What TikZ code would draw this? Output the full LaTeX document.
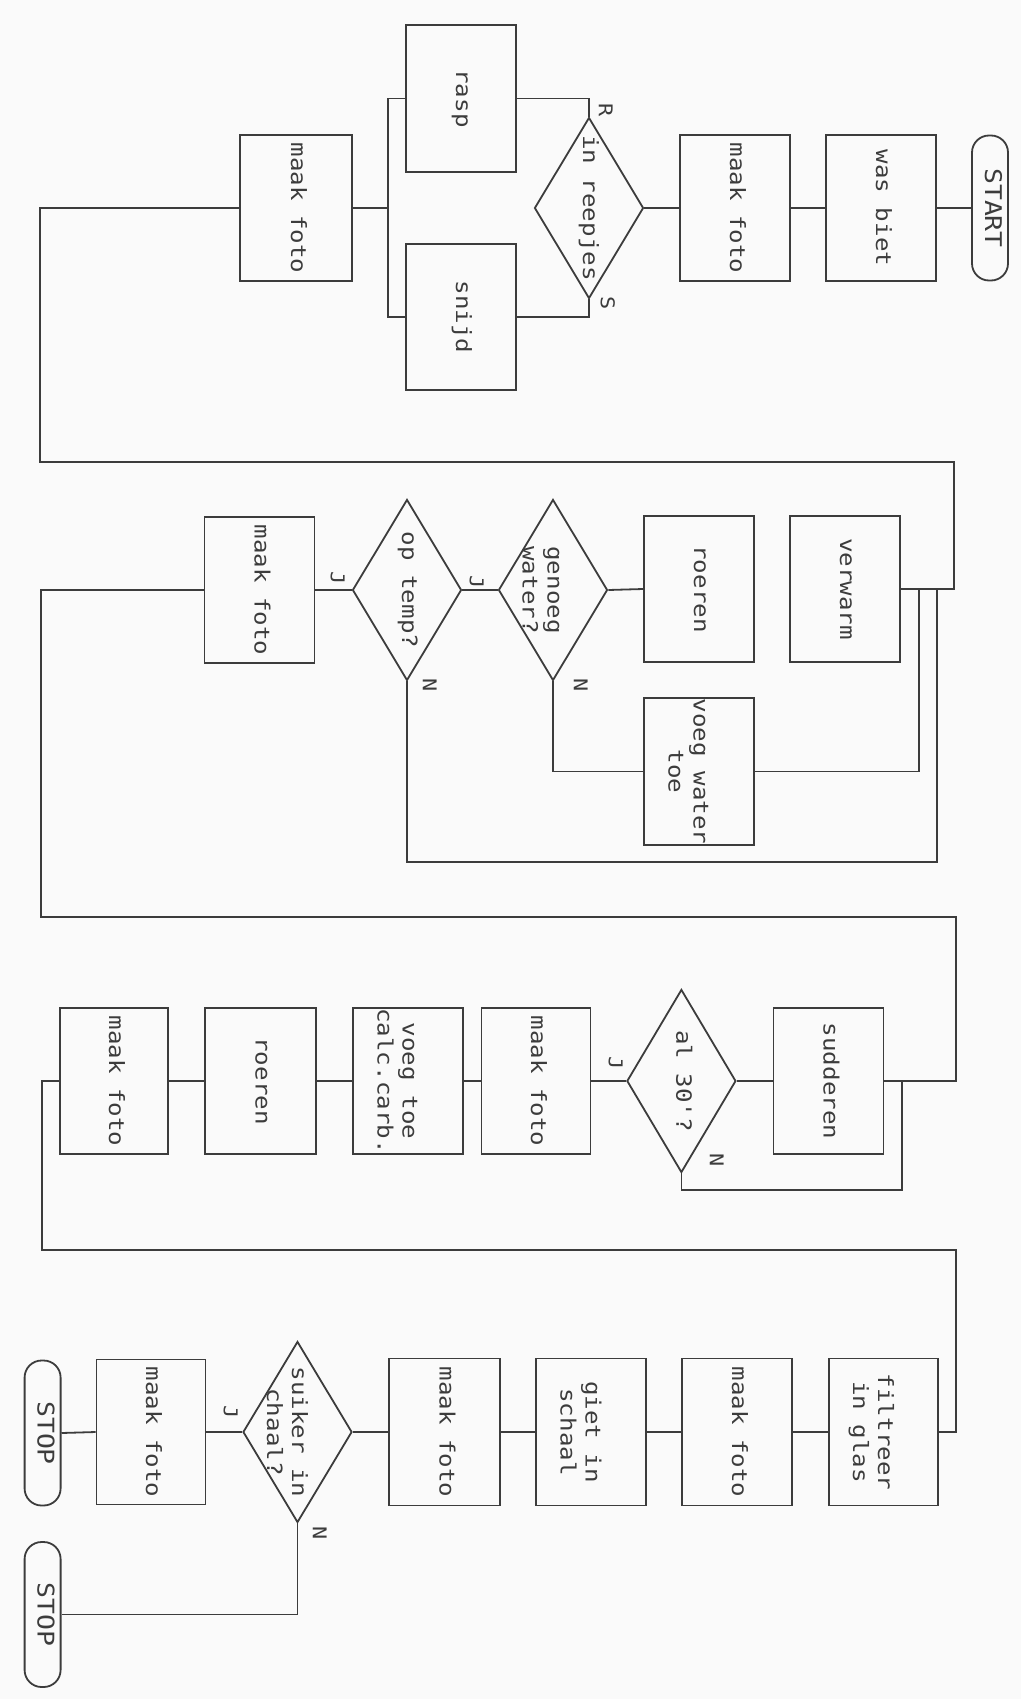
\documentclass[tikz,border=0pt]{standalone}
\usepackage{fontspec}
\usepackage{graphicx}
\usetikzlibrary{shapes.geometric}
\newfontfamily\plotfont[FakeStretch=1.15]{DejaVu Sans Mono}
\definecolor{ink}{RGB}{60,60,60}
\definecolor{paper}{RGB}{250,250,250}
\newcommand{\vtxt}[1]{\rotatebox{-90}{\begin{tabular}{@{}c@{}}#1\end{tabular}}}
\tikzset{
  boxfont/.style={font=\plotfont\fontsize{21}{25}\selectfont, text=ink},
  procbox/.style={draw=ink, rectangle, minimum width=110pt, minimum height=146pt, inner sep=0pt, boxfont},
  decbox/.style={draw=ink, diamond, minimum width=109pt, minimum height=181pt, inner sep=0pt},
  termbox/.style={draw=ink, rectangle, rounded corners=17pt, minimum width=36pt, minimum height=145pt, inner sep=0pt, font=\plotfont\fontsize{23}{25}\selectfont, text=ink},
  txtnode/.style={inner sep=0pt, boxfont},
  lbl/.style={inner sep=0pt, font=\plotfont\fontsize{19}{21}\selectfont, text=ink},
  conn/.style={draw=ink}
}
\begin{document}
\begin{tikzpicture}[x=1pt, y=-1pt, line width=1.8pt]
\path[fill=paper, use as bounding box] (0,0) rectangle (1021,1699);

% ---------- row 1 ----------
\node[termbox] (start) at (990,208) {\vtxt{START}};
\node[procbox] (wasbiet) at (881,208) {\vtxt{was biet}};
\node[procbox] (foto1) at (735,208) {\vtxt{maak foto}};
\node[decbox] (d1) at (589,208) {};
\node[txtnode] (d1t) at (588,208) {\vtxt{in reepjes}};
\node[procbox, minimum height=147pt] (rasp) at (461,98.5) {\vtxt{rasp}};
\node[procbox] (snijd) at (461,317) {\vtxt{snijd}};
\node[procbox, minimum width=112pt] (foto2) at (296,208) {\vtxt{maak foto}};
\node[lbl] (lR) at (603,110) {\vtxt{R}};
\node[lbl] (lS) at (605,303) {\vtxt{S}};
\coordinate (m1) at (388,208);

\draw[conn] (start.west) -- (wasbiet.east);
\draw[conn] (wasbiet.west) -- (foto1.east);
\draw[conn] (foto1.west) -- (d1.east);
\draw[conn] (d1.north) |- (rasp.east);
\draw[conn] (d1.south) |- (snijd.east);
\draw[conn] (rasp.west) -| (m1) |- (snijd.west);
\draw[conn] (m1) -- (foto2.east);

% loop 1
\coordinate (xl1) at (40,462);
\coordinate (xr1) at (954,462);

% ---------- row 2 ----------
\node[procbox] (verwarm) at (845,589) {\vtxt{verwarm}};
\node[procbox] (roeren1) at (699,589) {\vtxt{roeren}};
\node[decbox] (d2) at (553,590) {};
\node[txtnode] (d2t) at (540,590) {\vtxt{genoeg\\water?}};
\node[decbox] (d3) at (407,590) {};
\node[txtnode] (d3t) at (407,590) {\vtxt{op temp?}};
\node[procbox] (foto3) at (259.5,590) {\vtxt{maak foto}};
\node[procbox, minimum height=147pt] (voegwater) at (699,771.5) {};
\node[txtnode] (voegwatert) at (686,771.5) {\vtxt{voeg water\\toe}};
\node[lbl] (lJ1) at (474,582) {\vtxt{J}};
\node[lbl] (lN1) at (578,685) {\vtxt{N}};
\node[lbl] (lJ2) at (335,578) {\vtxt{J}};
\node[lbl] (lN2) at (427,685) {\vtxt{N}};

\draw[conn] (foto2.west) -| (xl1) -- (xr1) |- (verwarm.east);
\coordinate (j1) at (919,589);
\coordinate (j2) at (937,589);
\coordinate (b2) at (937,862);
\draw[conn] (j1) |- (voegwater.east);
\draw[conn] (j2) -- (b2) -| (d3.south);
\draw[conn] (roeren1.west) -- (d2.east);
\draw[conn] (d2.south) |- (voegwater.west);
\draw[conn] (d2.west) -- (d3.east);
\draw[conn] (d3.west) -- (foto3.east);

% loop 2
\coordinate (xl2) at (41,917);
\coordinate (xr2) at (956,917);

% ---------- row 3 ----------
\node[procbox] (sudderen) at (828.5,1081) {\vtxt{sudderen}};
\node[decbox, minimum height=183pt] (d4) at (681.4,1081) {};
\node[txtnode] (d4t) at (681.4,1081) {\vtxt{al 30'?}};
\node[procbox, minimum width=109pt] (foto4) at (536,1081) {\vtxt{maak foto}};
\node[procbox] (calc) at (408,1081) {};
\node[txtnode] (calct) at (395,1081) {\vtxt{voeg toe\\calc.carb.}};
\node[procbox, minimum width=111pt] (roeren2) at (260.5,1081) {\vtxt{roeren}};
\node[procbox, minimum width=108pt] (foto5) at (114,1081) {\vtxt{maak foto}};
\node[lbl] (lJ3) at (613,1063) {\vtxt{J}};
\node[lbl] (lN3) at (714,1160) {\vtxt{N}};

\draw[conn] (foto3.west) -| (xl2) -- (xr2) |- (sudderen.east);
\draw[conn] (sudderen.west) -- (d4.east);
\coordinate (j3) at (902,1081);
\coordinate (b3) at (902,1190);
\draw[conn] (d4.south) |- (b3) -- (j3);
\draw[conn] (d4.west) -- (foto4.east);
\draw[conn] (foto4.west) -- (calc.east);
\draw[conn] (calc.west) -- (roeren2.east);
\draw[conn] (roeren2.west) -- (foto5.east);

% loop 3
\coordinate (xl3) at (42,1250);
\coordinate (xr3) at (956,1250);

% ---------- row 4 ----------
\node[procbox, minimum width=109pt, minimum height=147pt] (filtreer) at (883.5,1432) {};
\node[txtnode] (filtreert) at (870.5,1432) {\vtxt{filtreer\\in glas}};
\node[procbox, minimum height=147pt] (foto6) at (737,1432) {\vtxt{maak foto}};
\node[procbox, minimum height=147pt] (giet) at (591,1432) {};
\node[txtnode] (giett) at (578,1432) {\vtxt{giet in\\schaal}};
\node[procbox, minimum width=111pt, minimum height=147pt] (foto7) at (444.5,1432) {\vtxt{maak foto}};
\node[decbox] (d5) at (297.5,1432) {};
\node[txtnode] (d5t) at (284.5,1432) {\vtxt{suiker in\\chaal?}};
\node[procbox, minimum width=109pt, minimum height=145pt] (foto8) at (151,1432) {\vtxt{maak foto}};
\node[termbox] (stop1) at (42.6,1433) {\vtxt{STOP}};
\node[termbox] (stop2) at (42.6,1614.5) {\vtxt{STOP}};
\node[lbl] (lJ4) at (228,1412) {\vtxt{J}};
\node[lbl] (lN4) at (317,1533) {\vtxt{N}};

\draw[conn] (foto5.west) -| (xl3) -- (xr3) |- (filtreer.east);
\draw[conn] (filtreer.west) -- (foto6.east);
\draw[conn] (foto6.west) -- (giet.east);
\draw[conn] (giet.west) -- (foto7.east);
\draw[conn] (foto7.west) -- (d5.east);
\draw[conn] (d5.west) -- (foto8.east);
\draw[conn] (foto8.west) -- (stop1.east);
\draw[conn] (d5.south) |- (stop2.east);
\end{tikzpicture}
\end{document}
